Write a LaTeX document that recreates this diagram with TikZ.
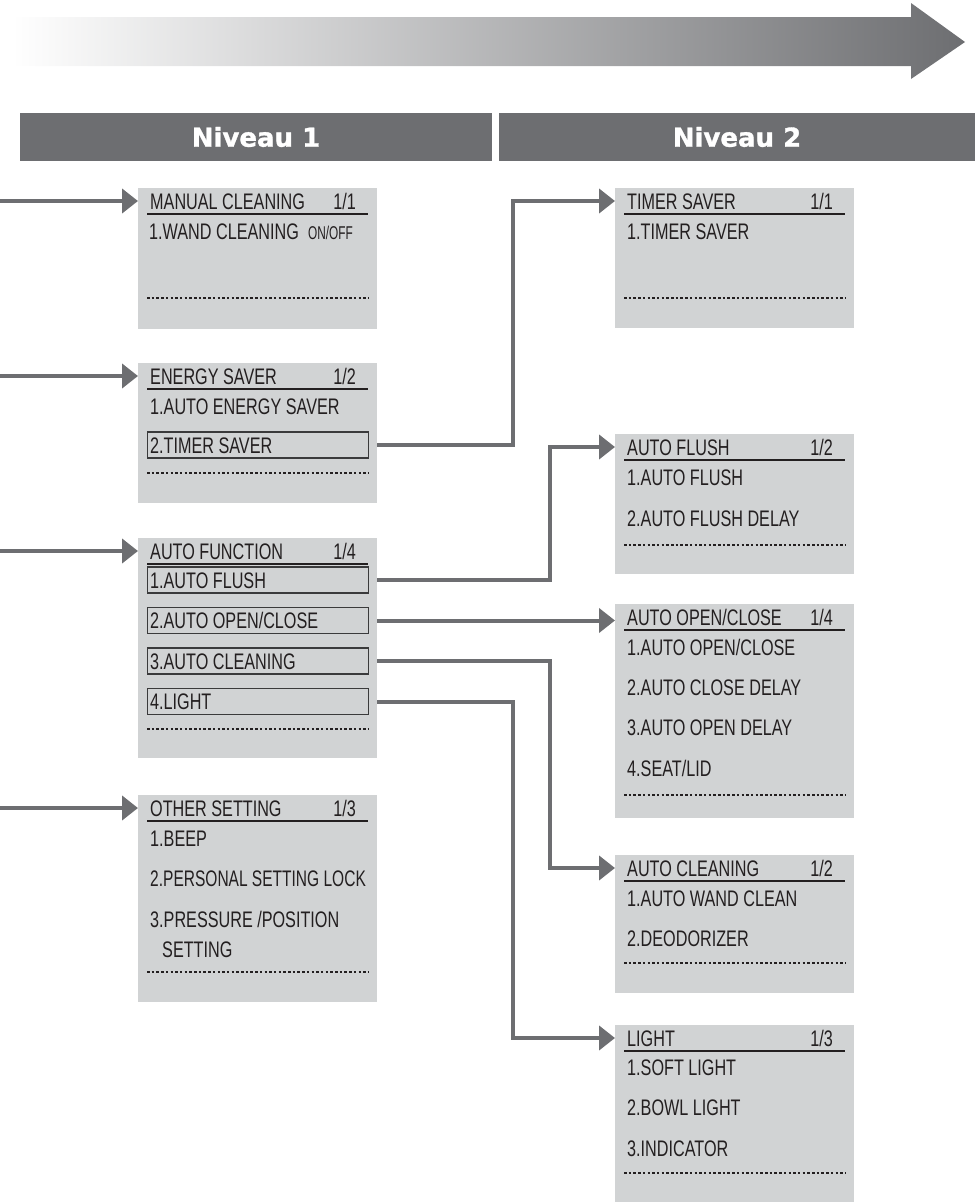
\documentclass[tikz,border=0pt]{standalone}
\usepackage{fontspec}
\setmainfont{Liberation Sans}[FakeStretch=0.72]
\newfontfamily\headfont{DejaVu Sans}[BoldFeatures={FakeBold=1.2}]
\newfontfamily\smallfont{Liberation Sans}[FakeStretch=0.64]
\newfontfamily\tightfont{Liberation Sans}[FakeStretch=0.69]
\usepackage{tikz}
\usetikzlibrary{positioning,arrows.meta}
\definecolor{bargray}{HTML}{6D6E71}
\definecolor{boxgray}{HTML}{D1D3D4}
\definecolor{inkgray}{HTML}{231F20}
\definecolor{framegray}{HTML}{3A3A3B}
\newcommand{\pickline}[1]{\makebox[216pt][l]{#1}}

\begin{document}
\begin{tikzpicture}[x=1pt, y=-1pt,
    menu/.style={fill=boxgray, minimum width=239pt, inner sep=0pt, anchor=north west},
    head/.style={fill=bargray, text=white, minimum height=48pt, inner sep=0pt,
      font=\headfont\bfseries\fontsize{26}{26}\selectfont},
    title/.style={anchor=west, inner sep=0pt, text height=16pt, text depth=0pt,
      text=inkgray, font=\fontsize{22.5}{22.5}\selectfont},
    frac/.style={title, anchor=east},
    item/.style={title},
    pick/.style={item, draw=framegray, line width=1.3pt, minimum height=26pt, inner xsep=2.5pt},
    rule/.style={draw=inkgray, line width=1.5pt},
    dots/.style={draw=inkgray, line width=1.2pt, dash pattern=on 2.5pt off 2.2pt},
    conn/.style={draw=bargray, line width=4pt, -{Triangle[length=16pt,width=24pt]}}]

  \useasboundingbox (0,0) rectangle (978,1202);

  % progress arrow
  \shade[left color=white, right color=bargray]
    (12,17) -- (911,17) -- (911,3) -- (965,42) -- (911,79) -- (911,66) -- (12,66) -- cycle;

  % level headers
  \node[head, minimum width=472pt] (N1) at (256,137) {Niveau 1};
  \node[head, minimum width=476pt] (N2) at (737,137) {Niveau 2};

  % level 1 menus
  \node[menu, minimum height=141pt] (MC) at (138,188) {};
  \node[title] (MCt) at ([xshift=12pt,yshift=-13pt]MC.north west) {MANUAL CLEANING};
  \node[frac] at ([xshift=218pt,yshift=-13pt]MC.north west) {1/1};
  \draw[rule] ([xshift=9pt,yshift=-26pt]MC.north west) -- ([xshift=-9pt,yshift=-26pt]MC.north east);
  \node[item] (MC1) at ([xshift=11pt,yshift=-43pt]MC.north west) {1.WAND CLEANING};
  \node[item, anchor=east, font=\smallfont\fontsize{18.5}{18.5}\selectfont]
    at ([xshift=215pt,yshift=-43pt]MC.north west) {ON/OFF};
  \draw[dots] ([xshift=9pt,yshift=-110pt]MC.north west) -- ([xshift=-9pt,yshift=-110pt]MC.north east);

  \node[menu, minimum height=140pt] (ES) at (138,363) {};
  \node[title] (ESt) at ([xshift=12pt,yshift=-13pt]ES.north west) {ENERGY SAVER};
  \node[frac] at ([xshift=218pt,yshift=-13pt]ES.north west) {1/2};
  \draw[rule] ([xshift=9pt,yshift=-26pt]ES.north west) -- ([xshift=-9pt,yshift=-26pt]ES.north east);
  \node[item] (ES1) at ([xshift=12pt,yshift=-43pt]ES.north west) {1.AUTO ENERGY SAVER};
  \node[pick] (ES2) at ([xshift=9pt,yshift=-82pt]ES.north west) {\pickline{2.TIMER SAVER}};
  \draw[dots] ([xshift=9pt,yshift=-110pt]ES.north west) -- ([xshift=-9pt,yshift=-110pt]ES.north east);

  \node[menu, minimum height=220pt] (AF) at (138,538) {};
  \node[title] (AFt) at ([xshift=12pt,yshift=-13pt]AF.north west) {AUTO FUNCTION};
  \node[frac] at ([xshift=218pt,yshift=-13pt]AF.north west) {1/4};
  \draw[rule] ([xshift=9pt,yshift=-26pt]AF.north west) -- ([xshift=-9pt,yshift=-26pt]AF.north east);
  \node[pick] (AF1) at ([xshift=9pt,yshift=-42pt]AF.north west) {\pickline{1.AUTO FLUSH}};
  \node[pick] (AF2) at ([xshift=9pt,yshift=-82.5pt]AF.north west) {\pickline{2.AUTO OPEN/CLOSE}};
  \node[pick] (AF3) at ([xshift=9pt,yshift=-123pt]AF.north west) {\pickline{3.AUTO CLEANING}};
  \node[pick] (AF4) at ([xshift=9pt,yshift=-163.5pt]AF.north west) {\pickline{4.LIGHT}};
  \draw[dots] ([xshift=9pt,yshift=-191pt]AF.north west) -- ([xshift=-9pt,yshift=-191pt]AF.north east);

  \node[menu, minimum height=207pt] (OS) at (138,795) {};
  \node[title] (OSt) at ([xshift=12pt,yshift=-13pt]OS.north west) {OTHER SETTING};
  \node[frac] at ([xshift=218pt,yshift=-13pt]OS.north west) {1/3};
  \draw[rule] ([xshift=9pt,yshift=-26pt]OS.north west) -- ([xshift=-9pt,yshift=-26pt]OS.north east);
  \node[item] (OS1) at ([xshift=12pt,yshift=-43pt]OS.north west) {1.BEEP};
  \node[item, font=\tightfont\fontsize{22.5}{22.5}\selectfont] (OS2)
    at ([xshift=12pt,yshift=-83.5pt]OS.north west) {2.PERSONAL SETTING LOCK};
  \node[item] (OS3) at ([xshift=12pt,yshift=-124pt]OS.north west) {3.PRESSURE /POSITION};
  \node[item] (OS3b) at ([xshift=12pt,yshift=-30pt]OS3.west) {SETTING};
  \draw[dots] ([xshift=9pt,yshift=-177pt]OS.north west) -- ([xshift=-9pt,yshift=-177pt]OS.north east);

  % level 2 menus
  \node[menu, minimum height=140pt] (TS) at (615,188) {};
  \node[title] (TSt) at ([xshift=12pt,yshift=-13pt]TS.north west) {TIMER SAVER};
  \node[frac] at ([xshift=218pt,yshift=-13pt]TS.north west) {1/1};
  \draw[rule] ([xshift=9pt,yshift=-26pt]TS.north west) -- ([xshift=-9pt,yshift=-26pt]TS.north east);
  \node[item] (TS1) at ([xshift=12pt,yshift=-43pt]TS.north west) {1.TIMER SAVER};
  \draw[dots] ([xshift=9pt,yshift=-110pt]TS.north west) -- ([xshift=-9pt,yshift=-110pt]TS.north east);

  \node[menu, minimum height=140pt] (FL) at (615,434) {};
  \node[title] (FLt) at ([xshift=12pt,yshift=-13pt]FL.north west) {AUTO FLUSH};
  \node[frac] at ([xshift=218pt,yshift=-13pt]FL.north west) {1/2};
  \draw[rule] ([xshift=9pt,yshift=-26pt]FL.north west) -- ([xshift=-9pt,yshift=-26pt]FL.north east);
  \node[item] (FL1) at ([xshift=12pt,yshift=-43pt]FL.north west) {1.AUTO FLUSH};
  \node[item] (FL2) at ([xshift=12pt,yshift=-84pt]FL.north west) {2.AUTO FLUSH DELAY};
  \draw[dots] ([xshift=9pt,yshift=-111pt]FL.north west) -- ([xshift=-9pt,yshift=-111pt]FL.north east);

  \node[menu, minimum height=214pt] (OC) at (615,604) {};
  \node[title] (OCt) at ([xshift=12pt,yshift=-13pt]OC.north west) {AUTO OPEN/CLOSE};
  \node[frac] at ([xshift=218pt,yshift=-13pt]OC.north west) {1/4};
  \draw[rule] ([xshift=9pt,yshift=-26pt]OC.north west) -- ([xshift=-9pt,yshift=-26pt]OC.north east);
  \node[item] (OC1) at ([xshift=12pt,yshift=-43pt]OC.north west) {1.AUTO OPEN/CLOSE};
  \node[item] (OC2) at ([xshift=12pt,yshift=-83pt]OC.north west) {2.AUTO CLOSE DELAY};
  \node[item] (OC3) at ([xshift=12pt,yshift=-123pt]OC.north west) {3.AUTO OPEN DELAY};
  \node[item] (OC4) at ([xshift=12pt,yshift=-164pt]OC.north west) {4.SEAT/LID};
  \draw[dots] ([xshift=9pt,yshift=-191pt]OC.north west) -- ([xshift=-9pt,yshift=-191pt]OC.north east);

  \node[menu, minimum height=138pt] (AC) at (615,855) {};
  \node[title] (ACt) at ([xshift=12pt,yshift=-13pt]AC.north west) {AUTO CLEANING};
  \node[frac] at ([xshift=218pt,yshift=-13pt]AC.north west) {1/2};
  \draw[rule] ([xshift=9pt,yshift=-26pt]AC.north west) -- ([xshift=-9pt,yshift=-26pt]AC.north east);
  \node[item] (AC1) at ([xshift=12pt,yshift=-43pt]AC.north west) {1.AUTO WAND CLEAN};
  \node[item] (AC2) at ([xshift=12pt,yshift=-83pt]AC.north west) {2.DEODORIZER};
  \draw[dots] ([xshift=9pt,yshift=-108pt]AC.north west) -- ([xshift=-9pt,yshift=-108pt]AC.north east);

  \node[menu, minimum height=177pt] (LI) at (615,1025) {};
  \node[title] (LIt) at ([xshift=12pt,yshift=-13pt]LI.north west) {LIGHT};
  \node[frac] at ([xshift=218pt,yshift=-13pt]LI.north west) {1/3};
  \draw[rule] ([xshift=9pt,yshift=-26pt]LI.north west) -- ([xshift=-9pt,yshift=-26pt]LI.north east);
  \node[item] (LI1) at ([xshift=12pt,yshift=-42pt]LI.north west) {1.SOFT LIGHT};
  \node[item] (LI2) at ([xshift=12pt,yshift=-82pt]LI.north west) {2.BOWL LIGHT};
  \node[item] (LI3) at ([xshift=12pt,yshift=-123pt]LI.north west) {3.INDICATOR};
  \draw[dots] ([xshift=9pt,yshift=-148pt]LI.north west) -- ([xshift=-9pt,yshift=-148pt]LI.north east);

  % connectors
  \coordinate (O) at (0,0);
  \coordinate (r1) at (513,0);
  \coordinate (r2) at (550,0);
  \draw[conn] (MCt.west -| O) -- (MCt.west -| MC.west);
  \draw[conn] (ESt.west -| O) -- (ESt.west -| ES.west);
  \draw[conn] (AFt.west -| O) -- (AFt.west -| AF.west);
  \draw[conn] (OSt.west -| O) -- (OSt.west -| OS.west);
  \draw[conn] (ES2.east -| ES.east) -- (ES2.east -| r1) |- (TSt.west -| TS.west);
  \draw[conn] (AF1.east -| AF.east) -- (AF1.east -| r2) |- (FLt.west -| FL.west);
  \draw[conn] (AF2.east -| AF.east) -- (AF2.east -| OC.west);
  \draw[conn] (AF3.east -| AF.east) -- (AF3.east -| r2) |- (ACt.west -| AC.west);
  \draw[conn] (AF4.east -| AF.east) -- (AF4.east -| r1) |- (LIt.west -| LI.west);
\end{tikzpicture}
\end{document}
